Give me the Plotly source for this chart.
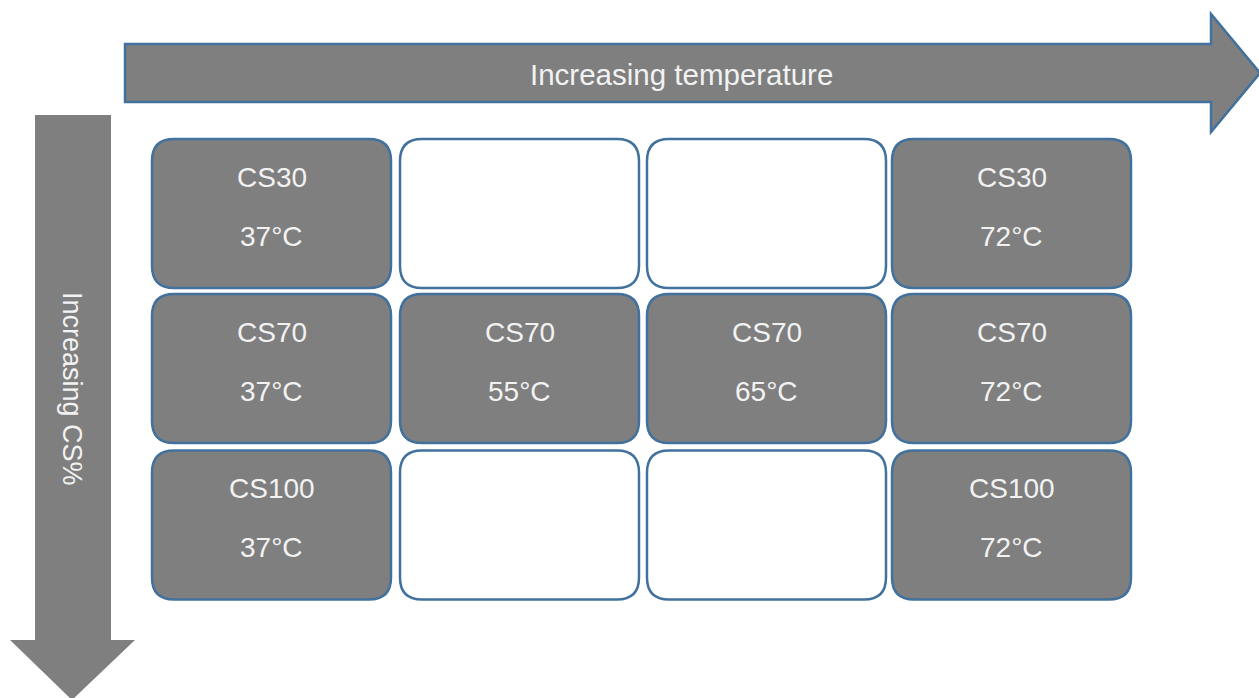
import plotly.graph_objects as go

# ---- data ----
cs_levels = ["CS30", "CS70", "CS100"]
temperatures = ["37°C", "55°C", "65°C", "72°C"]
# 1 = tested condition (grey, labelled), 0 = empty cell
tested = [
    [1, 0, 0, 1],
    [1, 1, 1, 1],
    [1, 0, 0, 1],
]
x_label = "Increasing temperature"
y_label = "Increasing CS%"

# ---- layout constants (pixels) ----
W, H = 1259, 698
col_left = [152, 400, 647, 892]
row_top = [139, 294, 450.5]
box_w, box_h = 239, 149
rad = 22
GREY = "#7F7F7F"
BLUE = "#41719C"
TXT = "#F2F2F2"
FONT_BOX = "Liberation Sans Narrow, Arial Narrow, Liberation Sans, Arial, sans-serif"
FONT_ARW = "Liberation Sans, Arial, sans-serif"


def rounded_rect(x0, y0, x1, y1, r):
    return (f"M {x0+r},{y0} L {x1-r},{y0} Q {x1},{y0} {x1},{y0+r} "
            f"L {x1},{y1-r} Q {x1},{y1} {x1-r},{y1} L {x0+r},{y1} "
            f"Q {x0},{y1} {x0},{y1-r} L {x0},{y0+r} Q {x0},{y0} {x0+r},{y0} Z")


def poly(points):
    return "M " + " L ".join(f"{x},{y}" for x, y in points) + " Z"


shapes = []
annotations = []

# horizontal arrow (temperature)
h_arrow = [(125, 44), (1211, 44), (1211, 14), (1260, 73),
           (1211, 132), (1211, 102), (125, 102)]
shapes.append(dict(type="path", path=poly(h_arrow), xref="x", yref="y",
                   fillcolor=GREY, line=dict(color=BLUE, width=2.5), layer="below"))
annotations.append(dict(x=681, y=74, xref="x", yref="y", text=x_label, showarrow=False,
                        font=dict(family=FONT_ARW, size=29.5, color=TXT),
                        xanchor="center", yanchor="middle"))

# vertical arrow (CS%)
v_arrow = [(35, 115), (111, 115), (111, 640), (135, 640), (72, 700),
           (10, 640), (35, 640)]
shapes.append(dict(type="path", path=poly(v_arrow), xref="x", yref="y",
                   fillcolor=GREY, line=dict(color=GREY, width=0), layer="below"))
annotations.append(dict(x=72, y=389, xref="x", yref="y", text=y_label, showarrow=False,
                        textangle=90,
                        font=dict(family=FONT_ARW, size=27, color=TXT),
                        xanchor="center", yanchor="middle"))

# grid of boxes
for ri, cs in enumerate(cs_levels):
    for ci, t in enumerate(temperatures):
        x0 = col_left[ci]
        y0 = row_top[ri]
        x1, y1 = x0 + box_w, y0 + box_h
        on = tested[ri][ci] == 1
        shapes.append(dict(type="path", path=rounded_rect(x0, y0, x1, y1, rad),
                           xref="x", yref="y",
                           fillcolor=GREY if on else "white",
                           line=dict(color=BLUE, width=2.5), layer="below"))
        if on:
            cx = (x0 + x1) / 2
            cy = (y0 + y1) / 2
            for txt, dy in ((cs, -36.5), (t, 22.5)):
                annotations.append(dict(x=cx, y=cy + dy, xref="x", yref="y", text=txt,
                                        showarrow=False,
                                        font=dict(family=FONT_BOX, size=28, color=TXT),
                                        xanchor="center", yanchor="middle"))

fig = go.Figure()
fig.add_trace(go.Scatter(x=[0, W], y=[0, H], mode="markers",
                         marker=dict(opacity=0), hoverinfo="skip", showlegend=False))
fig.update_layout(
    width=W, height=H,
    margin=dict(l=0, r=0, t=0, b=0),
    paper_bgcolor="white", plot_bgcolor="white",
    xaxis=dict(range=[0, W], visible=False, fixedrange=True),
    yaxis=dict(range=[H, 0], visible=False, fixedrange=True),
    shapes=shapes, annotations=annotations,
    showlegend=False,
)
fig.write_html("out.html", config={"displayModeBar": False},
               post_script="document.body.style.margin='0';document.body.style.overflow='hidden';")
